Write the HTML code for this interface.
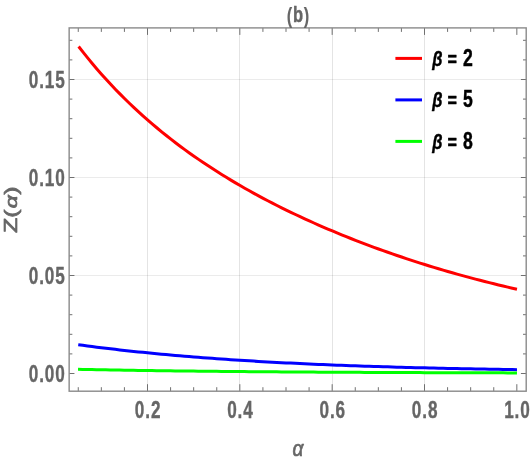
<!DOCTYPE html>
<html><head><meta charset="utf-8"><title>(b)</title>
<style>
html,body{margin:0;padding:0;background:#fff;}
body{width:531px;height:461px;overflow:hidden;font-family:"Liberation Sans",sans-serif;}
svg{display:block;will-change:transform;transform:translateZ(0);}
text{font-family:"Liberation Sans",sans-serif;}
</style></head><body>
<svg width="531" height="461" viewBox="0 0 531 461">
<rect x="0" y="0" width="531" height="461" fill="#ffffff"/>
<g stroke="rgba(0,0,0,0.105)" stroke-width="1" fill="none"><line x1="147.50" y1="27.90" x2="147.50" y2="391.20"/><line x1="239.50" y1="27.90" x2="239.50" y2="391.20"/><line x1="332.50" y1="27.90" x2="332.50" y2="391.20"/><line x1="424.50" y1="27.90" x2="424.50" y2="391.20"/><line stroke="rgba(0,0,0,0.08)" x1="69.15" y1="275.50" x2="526.20" y2="275.50"/><line stroke="rgba(0,0,0,0.08)" x1="69.15" y1="177.50" x2="526.20" y2="177.50"/><line stroke="rgba(0,0,0,0.08)" x1="69.15" y1="79.50" x2="526.20" y2="79.50"/></g>
<g fill="none" stroke-width="3.0" stroke-linecap="butt" stroke-linejoin="round">
<path stroke="#ff0000" d="M78.62 46.52 L83.23 52.42 L87.85 58.16 L92.46 63.74 L97.08 69.16 L101.69 74.43 L106.30 79.56 L110.92 84.55 L115.53 89.41 L120.15 94.14 L124.76 98.75 L129.38 103.25 L133.99 107.63 L138.60 111.91 L143.22 116.08 L147.83 120.16 L152.45 124.14 L157.06 128.02 L161.68 131.82 L166.29 135.53 L170.90 139.16 L175.52 142.72 L180.13 146.19 L184.75 149.60 L189.36 152.93 L193.98 156.19 L198.59 159.39 L203.20 162.52 L207.82 165.59 L212.43 168.61 L217.05 171.56 L221.66 174.46 L226.28 177.31 L230.89 180.10 L235.50 182.84 L240.12 185.54 L244.73 188.18 L249.35 190.78 L253.96 193.34 L258.58 195.85 L263.19 198.32 L267.80 200.75 L272.42 203.14 L277.03 205.49 L281.65 207.80 L286.26 210.08 L290.88 212.32 L295.49 214.52 L300.10 216.69 L304.72 218.83 L309.33 220.93 L313.95 223.00 L318.56 225.04 L323.18 227.05 L327.79 229.03 L332.40 230.98 L337.02 232.90 L341.63 234.80 L346.25 236.66 L350.86 238.50 L355.48 240.31 L360.09 242.10 L364.70 243.86 L369.32 245.59 L373.93 247.30 L378.55 248.98 L383.16 250.64 L387.78 252.27 L392.39 253.89 L397.00 255.47 L401.62 257.04 L406.23 258.58 L410.85 260.10 L415.46 261.59 L420.08 263.07 L424.69 264.52 L429.30 265.95 L433.92 267.36 L438.53 268.75 L443.15 270.11 L447.76 271.46 L452.38 272.78 L456.99 274.09 L461.60 275.37 L466.22 276.63 L470.83 277.88 L475.45 279.10 L480.06 280.30 L484.68 281.49 L489.29 282.65 L493.90 283.79 L498.52 284.92 L503.13 286.02 L507.75 287.11 L512.36 288.18 L516.98 289.23"/>
<path stroke="#0000ff" d="M78.25 344.73 L82.87 345.35 L87.49 345.96 L92.10 346.56 L96.72 347.14 L101.34 347.71 L105.96 348.27 L110.58 348.82 L115.20 349.36 L119.81 349.89 L124.43 350.40 L129.05 350.91 L133.67 351.40 L138.29 351.89 L142.90 352.36 L147.52 352.83 L152.14 353.28 L156.76 353.73 L161.38 354.16 L166.00 354.59 L170.61 355.00 L175.23 355.41 L179.85 355.81 L184.47 356.20 L189.09 356.58 L193.70 356.95 L198.32 357.32 L202.94 357.67 L207.56 358.02 L212.18 358.36 L216.79 358.70 L221.41 359.02 L226.03 359.34 L230.65 359.65 L235.27 359.96 L239.89 360.25 L244.50 360.55 L249.12 360.83 L253.74 361.11 L258.36 361.38 L262.98 361.64 L267.59 361.90 L272.21 362.15 L276.83 362.40 L281.45 362.64 L286.07 362.88 L290.69 363.11 L295.30 363.33 L299.92 363.55 L304.54 363.77 L309.16 363.98 L313.78 364.18 L318.39 364.38 L323.01 364.57 L327.63 364.77 L332.25 364.95 L336.87 365.13 L341.49 365.31 L346.10 365.48 L350.72 365.65 L355.34 365.82 L359.96 365.98 L364.58 366.13 L369.19 366.29 L373.81 366.44 L378.43 366.58 L383.05 366.73 L387.67 366.86 L392.28 367.00 L396.90 367.13 L401.52 367.26 L406.14 367.39 L410.76 367.51 L415.38 367.63 L419.99 367.75 L424.61 367.86 L429.23 367.97 L433.85 368.08 L438.47 368.19 L443.08 368.29 L447.70 368.40 L452.32 368.49 L456.94 368.59 L461.56 368.68 L466.18 368.78 L470.79 368.87 L475.41 368.95 L480.03 369.04 L484.65 369.12 L489.27 369.20 L493.88 369.28 L498.50 369.36 L503.12 369.43 L507.74 369.51 L512.36 369.58 L516.98 369.65"/>
<path stroke="#00ff00" d="M78.02 369.29 L82.64 369.39 L87.26 369.48 L91.88 369.58 L96.50 369.67 L101.12 369.75 L105.74 369.84 L110.36 369.92 L114.98 370.00 L119.60 370.08 L124.23 370.16 L128.85 370.23 L133.47 370.31 L138.09 370.38 L142.71 370.45 L147.33 370.52 L151.95 370.58 L156.57 370.65 L161.19 370.71 L165.81 370.77 L170.43 370.83 L175.05 370.89 L179.67 370.95 L184.29 371.00 L188.91 371.06 L193.53 371.11 L198.15 371.16 L202.78 371.21 L207.40 371.26 L212.02 371.31 L216.64 371.36 L221.26 371.40 L225.88 371.45 L230.50 371.49 L235.12 371.53 L239.74 371.58 L244.36 371.62 L248.98 371.66 L253.60 371.69 L258.22 371.73 L262.84 371.77 L267.46 371.80 L272.08 371.84 L276.70 371.87 L281.33 371.91 L285.95 371.94 L290.57 371.97 L295.19 372.00 L299.81 372.03 L304.43 372.06 L309.05 372.09 L313.67 372.12 L318.29 372.15 L322.91 372.18 L327.53 372.20 L332.15 372.23 L336.77 372.25 L341.39 372.28 L346.01 372.30 L350.63 372.33 L355.25 372.35 L359.88 372.37 L364.50 372.39 L369.12 372.42 L373.74 372.44 L378.36 372.46 L382.98 372.48 L387.60 372.50 L392.22 372.52 L396.84 372.54 L401.46 372.55 L406.08 372.57 L410.70 372.59 L415.32 372.61 L419.94 372.62 L424.56 372.64 L429.18 372.66 L433.80 372.67 L438.43 372.69 L443.05 372.70 L447.67 372.72 L452.29 372.73 L456.91 372.75 L461.53 372.76 L466.15 372.77 L470.77 372.79 L475.39 372.80 L480.01 372.81 L484.63 372.82 L489.25 372.84 L493.87 372.85 L498.49 372.86 L503.11 372.87 L507.73 372.88 L512.35 372.89 L516.98 372.90"/>
</g>
<g stroke="#707070" stroke-width="1" fill="none"><line x1="78.25" y1="391.20" x2="78.25" y2="387.20"/><line x1="78.25" y1="27.90" x2="78.25" y2="31.90"/><line x1="101.33" y1="391.20" x2="101.33" y2="387.20"/><line x1="101.33" y1="27.90" x2="101.33" y2="31.90"/><line x1="124.42" y1="391.20" x2="124.42" y2="387.20"/><line x1="124.42" y1="27.90" x2="124.42" y2="31.90"/><line x1="147.50" y1="391.20" x2="147.50" y2="384.20"/><line x1="147.50" y1="27.90" x2="147.50" y2="34.90"/><line x1="170.58" y1="391.20" x2="170.58" y2="387.20"/><line x1="170.58" y1="27.90" x2="170.58" y2="31.90"/><line x1="193.67" y1="391.20" x2="193.67" y2="387.20"/><line x1="193.67" y1="27.90" x2="193.67" y2="31.90"/><line x1="216.75" y1="391.20" x2="216.75" y2="387.20"/><line x1="216.75" y1="27.90" x2="216.75" y2="31.90"/><line x1="239.83" y1="391.20" x2="239.83" y2="384.20"/><line x1="239.83" y1="27.90" x2="239.83" y2="34.90"/><line x1="262.92" y1="391.20" x2="262.92" y2="387.20"/><line x1="262.92" y1="27.90" x2="262.92" y2="31.90"/><line x1="286.00" y1="391.20" x2="286.00" y2="387.20"/><line x1="286.00" y1="27.90" x2="286.00" y2="31.90"/><line x1="309.09" y1="391.20" x2="309.09" y2="387.20"/><line x1="309.09" y1="27.90" x2="309.09" y2="31.90"/><line x1="332.17" y1="391.20" x2="332.17" y2="384.20"/><line x1="332.17" y1="27.90" x2="332.17" y2="34.90"/><line x1="355.25" y1="391.20" x2="355.25" y2="387.20"/><line x1="355.25" y1="27.90" x2="355.25" y2="31.90"/><line x1="378.34" y1="391.20" x2="378.34" y2="387.20"/><line x1="378.34" y1="27.90" x2="378.34" y2="31.90"/><line x1="401.42" y1="391.20" x2="401.42" y2="387.20"/><line x1="401.42" y1="27.90" x2="401.42" y2="31.90"/><line x1="424.50" y1="391.20" x2="424.50" y2="384.20"/><line x1="424.50" y1="27.90" x2="424.50" y2="34.90"/><line x1="447.59" y1="391.20" x2="447.59" y2="387.20"/><line x1="447.59" y1="27.90" x2="447.59" y2="31.90"/><line x1="470.67" y1="391.20" x2="470.67" y2="387.20"/><line x1="470.67" y1="27.90" x2="470.67" y2="31.90"/><line x1="493.75" y1="391.20" x2="493.75" y2="387.20"/><line x1="493.75" y1="27.90" x2="493.75" y2="31.90"/><line x1="516.84" y1="391.20" x2="516.84" y2="384.20"/><line x1="516.84" y1="27.90" x2="516.84" y2="34.90"/><line x1="69.15" y1="373.50" x2="74.45" y2="373.50"/><line x1="526.20" y1="373.50" x2="520.90" y2="373.50"/><line x1="69.15" y1="353.90" x2="72.35" y2="353.90"/><line x1="526.20" y1="353.90" x2="523.00" y2="353.90"/><line x1="69.15" y1="334.30" x2="72.35" y2="334.30"/><line x1="526.20" y1="334.30" x2="523.00" y2="334.30"/><line x1="69.15" y1="314.70" x2="72.35" y2="314.70"/><line x1="526.20" y1="314.70" x2="523.00" y2="314.70"/><line x1="69.15" y1="295.10" x2="72.35" y2="295.10"/><line x1="526.20" y1="295.10" x2="523.00" y2="295.10"/><line x1="69.15" y1="275.50" x2="74.45" y2="275.50"/><line x1="526.20" y1="275.50" x2="520.90" y2="275.50"/><line x1="69.15" y1="255.90" x2="72.35" y2="255.90"/><line x1="526.20" y1="255.90" x2="523.00" y2="255.90"/><line x1="69.15" y1="236.30" x2="72.35" y2="236.30"/><line x1="526.20" y1="236.30" x2="523.00" y2="236.30"/><line x1="69.15" y1="216.70" x2="72.35" y2="216.70"/><line x1="526.20" y1="216.70" x2="523.00" y2="216.70"/><line x1="69.15" y1="197.10" x2="72.35" y2="197.10"/><line x1="526.20" y1="197.10" x2="523.00" y2="197.10"/><line x1="69.15" y1="177.50" x2="74.45" y2="177.50"/><line x1="526.20" y1="177.50" x2="520.90" y2="177.50"/><line x1="69.15" y1="157.90" x2="72.35" y2="157.90"/><line x1="526.20" y1="157.90" x2="523.00" y2="157.90"/><line x1="69.15" y1="138.30" x2="72.35" y2="138.30"/><line x1="526.20" y1="138.30" x2="523.00" y2="138.30"/><line x1="69.15" y1="118.70" x2="72.35" y2="118.70"/><line x1="526.20" y1="118.70" x2="523.00" y2="118.70"/><line x1="69.15" y1="99.10" x2="72.35" y2="99.10"/><line x1="526.20" y1="99.10" x2="523.00" y2="99.10"/><line x1="69.15" y1="79.50" x2="74.45" y2="79.50"/><line x1="526.20" y1="79.50" x2="520.90" y2="79.50"/><line x1="69.15" y1="59.90" x2="72.35" y2="59.90"/><line x1="526.20" y1="59.90" x2="523.00" y2="59.90"/><line x1="69.15" y1="40.30" x2="72.35" y2="40.30"/><line x1="526.20" y1="40.30" x2="523.00" y2="40.30"/></g>
<rect x="69.15" y="27.90" width="457.05" height="363.30" fill="none" stroke="#8a8a8a" stroke-width="1.4"/>
<text transform="translate(65.70 381.60) scale(0.730 1)" text-anchor="end" font-size="23.50" font-weight="bold" font-style="normal" fill="#666666" stroke="#666666" stroke-width="0.38" stroke-linejoin="round" letter-spacing="1.2">0.00</text>
<text transform="translate(65.70 283.60) scale(0.730 1)" text-anchor="end" font-size="23.50" font-weight="bold" font-style="normal" fill="#666666" stroke="#666666" stroke-width="0.38" stroke-linejoin="round" letter-spacing="1.2">0.05</text>
<text transform="translate(65.70 185.60) scale(0.730 1)" text-anchor="end" font-size="23.50" font-weight="bold" font-style="normal" fill="#666666" stroke="#666666" stroke-width="0.38" stroke-linejoin="round" letter-spacing="1.2">0.10</text>
<text transform="translate(65.70 87.60) scale(0.730 1)" text-anchor="end" font-size="23.50" font-weight="bold" font-style="normal" fill="#666666" stroke="#666666" stroke-width="0.38" stroke-linejoin="round" letter-spacing="1.2">0.15</text>
<text transform="translate(148.10 418.10) scale(0.730 1)" text-anchor="middle" font-size="23.50" font-weight="bold" font-style="normal" fill="#666666" stroke="#666666" stroke-width="0.38" stroke-linejoin="round" letter-spacing="1.2">0.2</text>
<text transform="translate(240.43 418.10) scale(0.730 1)" text-anchor="middle" font-size="23.50" font-weight="bold" font-style="normal" fill="#666666" stroke="#666666" stroke-width="0.38" stroke-linejoin="round" letter-spacing="1.2">0.4</text>
<text transform="translate(332.77 418.10) scale(0.730 1)" text-anchor="middle" font-size="23.50" font-weight="bold" font-style="normal" fill="#666666" stroke="#666666" stroke-width="0.38" stroke-linejoin="round" letter-spacing="1.2">0.6</text>
<text transform="translate(425.10 418.10) scale(0.730 1)" text-anchor="middle" font-size="23.50" font-weight="bold" font-style="normal" fill="#666666" stroke="#666666" stroke-width="0.38" stroke-linejoin="round" letter-spacing="1.2">0.8</text>
<text transform="translate(517.44 418.10) scale(0.730 1)" text-anchor="middle" font-size="23.50" font-weight="bold" font-style="normal" fill="#666666" stroke="#666666" stroke-width="0.38" stroke-linejoin="round" letter-spacing="1.2">1.0</text>
<text transform="translate(298.30 22.30) scale(0.740 1)" text-anchor="middle" font-size="22.30" font-weight="bold" font-style="normal" fill="#666666" stroke="#666666" stroke-width="0.45" stroke-linejoin="round" letter-spacing="1.0"><tspan stroke-width="0.1" dy="0.6">(</tspan><tspan dy="-0.6">b</tspan><tspan stroke-width="0.1" dy="0.6">)</tspan></text>
<text transform="translate(298.00 455.60) scale(0.850 1)" text-anchor="middle" font-size="22.50" font-weight="normal" font-style="italic" fill="#666666" stroke="#666666" stroke-width="0.70" stroke-linejoin="round">α</text>
<text transform="translate(16.9 209.8) rotate(-90) scale(1.42 1)" text-anchor="middle" font-size="17.6" fill="#666666" stroke="#666666" stroke-width="0.7" stroke-linejoin="round">Z(<tspan font-style="italic" font-size="16" dx="0.9">α</tspan><tspan dx="0.35">)</tspan></text>
<line x1="395.4" y1="58.40" x2="422" y2="58.40" stroke="#ff0000" stroke-width="3.0"/>
<text transform="translate(432.2 65.50) scale(0.80 1)" font-size="20.6" font-style="italic" font-weight="bold" fill="#000000" stroke="#000000" stroke-width="0.45" stroke-linejoin="round">β</text>
<text transform="translate(447.6 65.50) scale(0.81 1)" font-size="20.0" font-weight="bold" fill="#000000" stroke="#000000" stroke-width="0.45" stroke-linejoin="round">=</text>
<text transform="translate(462.9 65.50) scale(0.75 1)" font-size="23.5" font-weight="bold" fill="#000000" stroke="#000000" stroke-width="0.45" stroke-linejoin="round">2</text>
<line x1="395.4" y1="99.90" x2="422" y2="99.90" stroke="#0000ff" stroke-width="3.0"/>
<text transform="translate(432.2 107.00) scale(0.80 1)" font-size="20.6" font-style="italic" font-weight="bold" fill="#000000" stroke="#000000" stroke-width="0.45" stroke-linejoin="round">β</text>
<text transform="translate(447.6 107.00) scale(0.81 1)" font-size="20.0" font-weight="bold" fill="#000000" stroke="#000000" stroke-width="0.45" stroke-linejoin="round">=</text>
<text transform="translate(462.9 107.00) scale(0.75 1)" font-size="23.5" font-weight="bold" fill="#000000" stroke="#000000" stroke-width="0.45" stroke-linejoin="round">5</text>
<line x1="395.4" y1="141.40" x2="422" y2="141.40" stroke="#00ff00" stroke-width="3.0"/>
<text transform="translate(432.2 148.50) scale(0.80 1)" font-size="20.6" font-style="italic" font-weight="bold" fill="#000000" stroke="#000000" stroke-width="0.45" stroke-linejoin="round">β</text>
<text transform="translate(447.6 148.50) scale(0.81 1)" font-size="20.0" font-weight="bold" fill="#000000" stroke="#000000" stroke-width="0.45" stroke-linejoin="round">=</text>
<text transform="translate(462.9 148.50) scale(0.75 1)" font-size="23.5" font-weight="bold" fill="#000000" stroke="#000000" stroke-width="0.45" stroke-linejoin="round">8</text>
</svg>
</body></html>
